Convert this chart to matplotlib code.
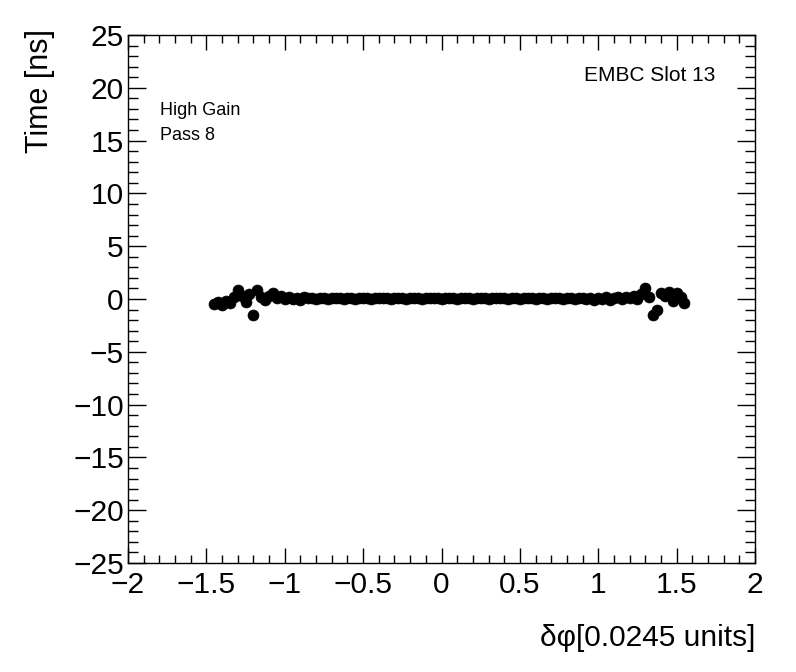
import matplotlib.pyplot as plt
from matplotlib.ticker import MultipleLocator

plt.rcParams['font.family'] = ['Liberation Sans', 'DejaVu Sans']

# delta phi bins (units of 0.0245)
dphi = [-1.450, -1.425, -1.400, -1.375, -1.350, -1.325, -1.300, -1.275, -1.250, -1.225,
        -1.200, -1.175, -1.150, -1.125, -1.100, -1.075, -1.050, -1.025, -1.000, -0.975,
        -0.950, -0.925, -0.900, -0.875, -0.850, -0.825, -0.800, -0.775, -0.750, -0.725,
        -0.700, -0.675, -0.650, -0.625, -0.600, -0.575, -0.550, -0.525, -0.500, -0.475,
        -0.450, -0.425, -0.400, -0.375, -0.350, -0.325, -0.300, -0.275, -0.250, -0.225,
        -0.200, -0.175, -0.150, -0.125, -0.100, -0.075, -0.050, -0.025, 0.000, 0.025,
        0.050, 0.075, 0.100, 0.125, 0.150, 0.175, 0.200, 0.225, 0.250, 0.275,
        0.300, 0.325, 0.350, 0.375, 0.400, 0.425, 0.450, 0.475, 0.500, 0.525,
        0.550, 0.575, 0.600, 0.625, 0.650, 0.675, 0.700, 0.725, 0.750, 0.775,
        0.800, 0.825, 0.850, 0.875, 0.900, 0.925, 0.950, 0.975, 1.000, 1.025,
        1.050, 1.075, 1.100, 1.125, 1.150, 1.175, 1.200, 1.225, 1.250, 1.275,
        1.300, 1.325, 1.350, 1.375, 1.400, 1.425, 1.450, 1.475, 1.500, 1.525,
        1.550]

# time offset per bin [ns]
t = [-0.5, -0.3, -0.6, -0.2, -0.4, 0.2, 0.9, 0.3, -0.3, 0.5,
     -1.5, 0.9, 0.2, -0.1, 0.3, 0.6, 0.1, 0.3, 0.0, 0.2,
     0.0, 0.1, -0.1, 0.15, 0.05, 0.1, 0.0, 0.1, 0.05, 0.0,
     0.1, 0.05, 0.1, 0.0, 0.05, 0.1, 0.0, 0.05, 0.1, 0.05,
     0.0, 0.1, 0.05, 0.05, 0.1, 0.0, 0.05, 0.1, 0.05, 0.0,
     0.05, 0.1, 0.05, 0.0, 0.05, 0.1, 0.05, 0.05, 0.0, 0.05,
     0.1, 0.05, 0.0, 0.05, 0.1, 0.05, 0.0, 0.05, 0.1, 0.05,
     0.0, 0.05, 0.1, 0.05, 0.05, 0.0, 0.1, 0.05, 0.0, 0.05,
     0.1, 0.05, 0.0, 0.05, 0.1, 0.0, 0.05, 0.1, 0.05, 0.0,
     0.1, 0.05, 0.0, 0.1, 0.05, 0.0, 0.1, -0.05, 0.1, 0.0,
     0.15, -0.05, 0.1, 0.2, 0.0, 0.15, 0.1, 0.3, 0.0, 0.5,
     1.0, 0.2, -1.5, -1.0, 0.6, 0.3, 0.7, -0.2, 0.6, 0.2,
     -0.4]

fig = plt.figure(figsize=(7.96, 6.72), dpi=100)
ax = fig.add_axes([0.1608, 0.1622, 0.7877, 0.7857])

ax.scatter(dphi, t, s=62, c='black', marker='o', edgecolors='black', linewidths=0.5)

ax.set_xlim(-2, 2)
ax.set_ylim(-25, 25)
ax.xaxis.set_major_locator(MultipleLocator(0.5))
ax.xaxis.set_minor_locator(MultipleLocator(0.1))
ax.yaxis.set_major_locator(MultipleLocator(5))
ax.yaxis.set_minor_locator(MultipleLocator(1))
ax.xaxis.set_major_formatter(lambda v, p: f"{v:g}".replace('-', '\u2212'))
ax.yaxis.set_major_formatter(lambda v, p: f"{v:g}".replace('-', '\u2212'))

ax.tick_params(axis='both', which='both', direction='in', top=True, right=True,
               width=1, labelsize=21.5, color='black')
ax.tick_params(axis='x', which='major', length=11, pad=6)
ax.tick_params(axis='x', which='minor', length=5.5)
ax.tick_params(axis='y', which='major', length=13, pad=3)
ax.tick_params(axis='y', which='minor', length=7)
for s in ax.spines.values():
    s.set_linewidth(1)

fig.text(40 / 796, 1 - 29 / 672, 'Time [ns]', rotation=90, ha='center', va='top', fontsize=22)
fig.text(755 / 796, 1 - 646 / 672, '\u03b4\u03c6[0.0245 units]', ha='right', va='baseline', fontsize=21.5)

ax.text(715 / 796, 1 - 81 / 672, 'EMBC Slot 13', transform=fig.transFigure,
        ha='right', va='baseline', fontsize=15)
ax.text(160 / 796, 1 - 115 / 672, 'High Gain', transform=fig.transFigure,
        ha='left', va='baseline', fontsize=13)
ax.text(160 / 796, 1 - 140 / 672, 'Pass 8', transform=fig.transFigure,
        ha='left', va='baseline', fontsize=13)

plt.savefig('out.png', dpi=100)
